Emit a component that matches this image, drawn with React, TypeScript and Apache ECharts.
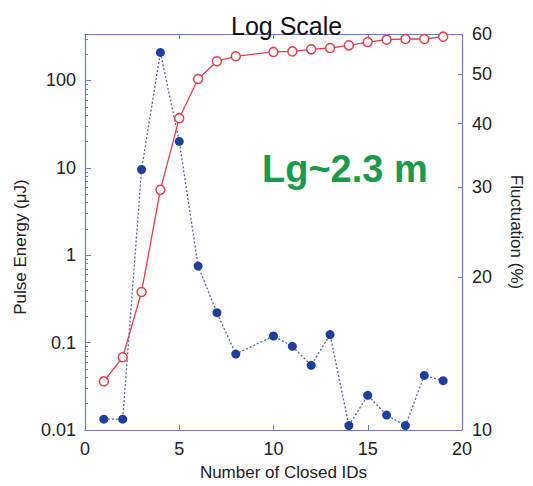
import { useEffect, useRef } from "react";
import * as echarts from "echarts";

// Number of closed IDs for each measurement (no data at 9)
const closedIds = [1, 2, 3, 4, 5, 6, 7, 8, 10, 11, 12, 13, 14, 15, 16, 17, 18, 19];
// Pulse energy in μJ (left, log axis)
const pulseEnergy = [0.036, 0.068, 0.38, 5.6, 37, 104, 166, 189, 212, 215, 227, 235, 252, 275, 293, 298, 298, 317];
// Pulse-energy fluctuation in % (right, log axis)
const fluctuation = [10.5, 10.5, 32.5, 55.2, 36.9, 21.0, 17.0, 14.1, 15.3, 14.6, 13.4, 15.4, 10.2, 11.7, 10.7, 10.2, 12.8, 12.5];

const energyLabels = [0.01, 0.1, 1, 10, 100];
const energyMinorTicks = [
  0.02, 0.03, 0.04, 0.05, 0.06, 0.07, 0.08, 0.09,
  0.2, 0.3, 0.4, 0.5, 0.6, 0.7, 0.8, 0.9,
  2, 3, 4, 5, 6, 7, 8, 9,
  20, 30, 40, 50, 60, 70, 80, 90,
  200, 300,
];
const fluctLabels = [10, 20, 30, 40, 50, 60];
const fluctTicks = [20, 30, 40, 50];

const FONT = "'Liberation Sans', Arial, Helvetica, sans-serif";
const AXIS_COLOR = "#6c7bc2";
const TEXT_COLOR = "#222";
const RED = "#e2404c";
const BLUE = "#1e3f9c";
const BLUE_LINE = "#5564ad";

export default function App() {
  const ref = useRef<HTMLDivElement>(null);

  useEffect(() => {
    document.body.style.margin = "0";
    if (!ref.current) return;
    const chart = echarts.init(ref.current, undefined, { renderer: "svg" });

    const axisLine = { show: true, lineStyle: { color: AXIS_COLOR, width: 1.2 } };
    const labelStyle = { color: TEXT_COLOR, fontSize: 18, fontFamily: FONT };
    const nameStyle = { color: TEXT_COLOR, fontSize: 17, fontFamily: FONT };

    chart.setOption({
      animation: false,
      backgroundColor: "#fff",
      title: {
        text: "Log Scale",
        left: 226,
        top: 8,
        textStyle: { color: "#111", fontSize: 25, fontWeight: "normal", fontFamily: FONT },
      },
      grid: { left: 85, right: 63, top: 34, bottom: 54 },
      xAxis: [
        {
          type: "value",
          position: "bottom",
          min: 0,
          max: 20,
          interval: 5,
          axisLine,
          axisTick: { inside: true, length: 5, lineStyle: { color: AXIS_COLOR } },
          axisLabel: { ...labelStyle, margin: 10 },
          splitLine: { show: false },
          name: "Number of Closed IDs",
          nameLocation: "middle",
          nameGap: 34,
          nameTextStyle: { ...nameStyle, padding: [0, 0, 0, 20] },
        },
        {
          type: "value",
          position: "top",
          min: 0,
          max: 20,
          interval: 5,
          axisLine,
          axisTick: { inside: true, length: 5, lineStyle: { color: AXIS_COLOR } },
          axisLabel: { show: false },
          splitLine: { show: false },
        },
      ],
      yAxis: [
        {
          type: "log",
          logBase: 10,
          position: "left",
          min: 0.01,
          max: 340,
          axisLine,
          axisTick: {
            inside: true,
            length: 6,
            customValues: energyLabels,
            lineStyle: { color: AXIS_COLOR },
          },
          axisLabel: {
            ...labelStyle,
            margin: 9,
            customValues: energyLabels,
            formatter: (v: number) => String(v),
          },
          splitLine: { show: false },
          name: "Pulse Energy (μJ)",
          nameLocation: "middle",
          nameGap: 56,
          nameRotate: 90,
          nameTextStyle: { ...nameStyle, padding: [0, 30, 0, 0] },
        },
        {
          type: "log",
          logBase: 10,
          position: "left",
          min: 0.01,
          max: 340,
          axisLine: { show: false },
          axisTick: {
            inside: true,
            length: 3,
            customValues: energyMinorTicks,
            lineStyle: { color: AXIS_COLOR },
          },
          axisLabel: { show: false },
          splitLine: { show: false },
        },
        {
          type: "log",
          logBase: 10,
          position: "right",
          min: 10,
          max: 60,
          axisLine,
          axisTick: {
            inside: true,
            length: 4,
            customValues: fluctTicks,
            lineStyle: { color: AXIS_COLOR },
          },
          axisLabel: {
            ...labelStyle,
            margin: 10,
            customValues: fluctLabels,
            formatter: (v: number) => String(v),
          },
          splitLine: { show: false },
          name: "Fluctuation (%)",
          nameLocation: "middle",
          nameGap: 46,
          nameRotate: -90,
          nameTextStyle: nameStyle,
        },
      ],
      graphic: [
        {
          type: "text",
          left: 262,
          top: 150,
          style: {
            text: "Lg~2.3 m",
            fill: "#1c9a4c",
            fontSize: 38,
            fontWeight: "bold",
            fontFamily: FONT,
          },
        },
      ],
      series: [
        {
          name: "Fluctuation",
          type: "line",
          xAxisIndex: 0,
          yAxisIndex: 2,
          data: closedIds.map((x, i) => [x, fluctuation[i]]),
          symbol: "circle",
          symbolSize: 9,
          itemStyle: { color: BLUE },
          lineStyle: { color: BLUE_LINE, width: 1.3, type: [2, 2] },
          z: 2,
        },
        {
          name: "Pulse Energy",
          type: "line",
          xAxisIndex: 0,
          yAxisIndex: 0,
          data: closedIds.map((x, i) => [x, pulseEnergy[i]]),
          symbol: "circle",
          symbolSize: 9,
          itemStyle: { color: "#fff", borderColor: RED, borderWidth: 1.5 },
          lineStyle: { color: RED, width: 1.3 },
          z: 3,
        },
      ],
    });

    return () => chart.dispose();
  }, []);

  return <div ref={ref} style={{ width: 533, height: 486 }} />;
}
